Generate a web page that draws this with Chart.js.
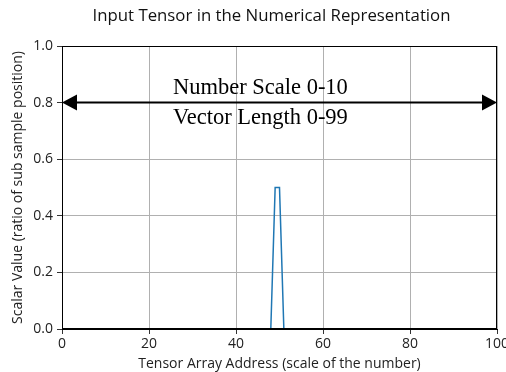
<!DOCTYPE html>
<html>
<head>
<meta charset="utf-8">
<script src="https://cdn.jsdelivr.net/npm/chart.js@4"></script>
<style>
  html, body { margin: 0; padding: 0; background: #fff; }
  #wrap { width: 506px; height: 372px; }
</style>
</head>
<body>
<div id="wrap"><canvas id="myChart" width="506" height="372"></canvas></div>
<script>
// scalar value stored at each address of the tensor (0..99)
const values = [
  0, 0, 0, 0, 0, 0, 0, 0, 0, 0,
  0, 0, 0, 0, 0, 0, 0, 0, 0, 0,
  0, 0, 0, 0, 0, 0, 0, 0, 0, 0,
  0, 0, 0, 0, 0, 0, 0, 0, 0, 0,
  0, 0, 0, 0, 0, 0, 0, 0, 0, 0.5,
  0.5, 0, 0, 0, 0, 0, 0, 0, 0, 0,
  0, 0, 0, 0, 0, 0, 0, 0, 0, 0,
  0, 0, 0, 0, 0, 0, 0, 0, 0, 0,
  0, 0, 0, 0, 0, 0, 0, 0, 0, 0,
  0, 0, 0, 0, 0, 0, 0, 0, 0, 0
];
const xTicks = [0, 20, 40, 60, 80, 100];
const yTicks = [0, 0.2, 0.4, 0.6, 0.8, 1.0];
const arrowLevel = 0.8;
const noteLines = ['Number Scale 0-10', 'Vector Length 0-99'];
const noteX = 25.5;
const chartTitle = 'Input Tensor in the Numerical Representation';

const points = values.map((v, i) => ({ x: i, y: v }));

const sansFont = '"Open Sans", "DejaVu Sans", sans-serif';

// title, frame, double arrow and the note text on top of the plot
const annotate = {
  id: 'annotate',
  afterDatasetsDraw(chart) {
    const { ctx, chartArea: a, scales } = chart;
    const x = scales.x, y = scales.y;
    ctx.save();

    ctx.fillStyle = '#111';
    ctx.font = '16.8px ' + sansFont;
    ctx.textAlign = 'center';
    ctx.textBaseline = 'middle';
    ctx.fillText(chartTitle, (a.left + a.right) / 2 - 8, 16.5);

    ctx.strokeStyle = '#000';
    ctx.lineWidth = 1;
    ctx.strokeRect(a.left + 0.5, a.top + 0.5, a.right - a.left - 1, a.bottom - a.top - 1);

    const ay = y.getPixelForValue(arrowLevel);
    const x0 = x.getPixelForValue(0), x1 = x.getPixelForValue(100);
    const head = 15, half = 8;
    ctx.lineWidth = 2;
    ctx.beginPath();
    ctx.moveTo(x0 + head, ay);
    ctx.lineTo(x1 - head, ay);
    ctx.stroke();
    ctx.fillStyle = '#000';
    ctx.beginPath();
    ctx.moveTo(x0, ay);
    ctx.lineTo(x0 + head, ay - half);
    ctx.lineTo(x0 + head, ay + half);
    ctx.closePath();
    ctx.fill();
    ctx.beginPath();
    ctx.moveTo(x1, ay);
    ctx.lineTo(x1 - head, ay - half);
    ctx.lineTo(x1 - head, ay + half);
    ctx.closePath();
    ctx.fill();

    ctx.font = '22.5px "Liberation Serif", serif';
    ctx.textAlign = 'left';
    ctx.textBaseline = 'alphabetic';
    const tx = x.getPixelForValue(noteX);
    ctx.fillText(noteLines[0], tx, ay - 9);
    ctx.fillText(noteLines[1], tx, ay + 21);
    ctx.restore();
  }
};

new Chart(document.getElementById('myChart').getContext('2d'), {
  type: 'line',
  data: {
    datasets: [{
      data: points,
      borderColor: '#1f77b4',
      borderWidth: 1.5,
      pointRadius: 0,
      tension: 0,
      fill: false
    }]
  },
  options: {
    responsive: false,
    animation: false,
    layout: { padding: { left: 0, right: 9, top: 46, bottom: 0 } },
    plugins: {
      legend: { display: false },
      tooltip: { enabled: false },
      title: { display: false }
    },
    scales: {
      x: {
        type: 'linear',
        min: 0,
        max: 100,
        afterBuildTicks: s => { s.ticks = xTicks.map(v => ({ value: v })); },
        afterFit: s => { s.height = 43; s.paddingLeft = 0; s.paddingRight = 0; },
        ticks: {
          color: '#222',
          font: { family: sansFont, size: 14 },
          maxRotation: 0,
          padding: 2,
          callback: v => String(v)
        },
        grid: { color: '#b0b0b0', tickColor: '#333', tickLength: 5, lineWidth: 1 },
        border: { color: '#000' },
        title: {
          display: true,
          text: 'Tensor Array Address (scale of the number)',
          color: '#222',
          font: { family: sansFont, size: 14 },
          padding: { top: 0, bottom: 0 }
        }
      },
      y: {
        type: 'linear',
        min: 0,
        max: 1,
        afterBuildTicks: s => { s.ticks = yTicks.map(v => ({ value: v })); },
        afterFit: s => { s.width = 62; s.paddingTop = 0; s.paddingBottom = 0; },
        ticks: {
          color: '#222',
          font: { family: sansFont, size: 14 },
          padding: 4,
          callback: v => v.toFixed(1)
        },
        grid: { color: '#b0b0b0', tickColor: '#333', tickLength: 5, lineWidth: 1 },
        border: { color: '#000' },
        title: {
          display: true,
          text: 'Scalar Value (ratio of sub sample position)',
          color: '#222',
          font: { family: sansFont, size: 14 },
          padding: { top: 10, bottom: 0 }
        }
      }
    }
  },
  plugins: [annotate]
});
</script>
</body>
</html>
